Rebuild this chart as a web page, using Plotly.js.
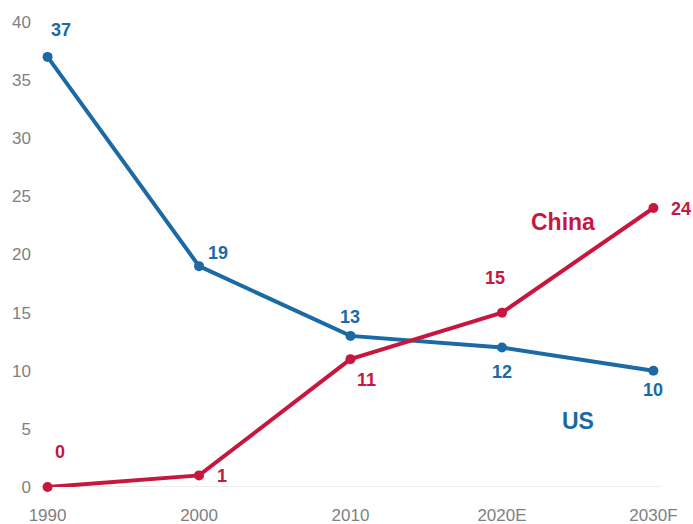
<!DOCTYPE html>
<html>
<head>
<meta charset="utf-8">
<script src="https://cdn.plot.ly/plotly-3.0.1.min.js"></script>
<style>html,body{margin:0;padding:0;background:#fff;}#chart{width:693px;height:524px;}</style>
</head>
<body>
<div id="chart"></div>
<script>
const categories = ["1990", "2000", "2010", "2020E", "2030F"];
const usValues = [37, 19, 13, 12, 10];
const chinaValues = [0, 1, 11, 15, 24];
const yTicks = [0, 5, 10, 15, 20, 25, 30, 35, 40];

const blue = "#1b6aa5";
const red = "#c8173f";
const xIdx = categories.map((c, i) => i);

const usShift = [[13, 27], [19, 13], [-1, 19], [0, -24], [0, -19]];
const chinaShift = [[12, 35], [23, -1], [16, -21], [-7, 35], [28, -1]];

const labelFont = (color) => ({family: "Liberation Sans, Arial, sans-serif", size: 18, color: color, weight: "bold"});

const annotations = [];
usValues.forEach((v, i) => annotations.push({
  x: i, y: v, xref: "x", yref: "y", text: String(v), showarrow: false,
  xshift: usShift[i][0], yshift: usShift[i][1], font: labelFont(blue)
}));
chinaValues.forEach((v, i) => annotations.push({
  x: i, y: v, xref: "x", yref: "y", text: String(v), showarrow: false,
  xshift: chinaShift[i][0], yshift: chinaShift[i][1], font: labelFont(red)
}));
annotations.push({x: 3.40, y: 22.8, xref: "x", yref: "y", text: "China", showarrow: false,
  font: {family: "Liberation Sans, Arial, sans-serif", size: 23, color: red, weight: "bold"}});
annotations.push({x: 3.50, y: 5.7, xref: "x", yref: "y", text: "US", showarrow: false,
  font: {family: "Liberation Sans, Arial, sans-serif", size: 23, color: blue, weight: "bold"}});

const traces = [
  {x: xIdx, y: usValues, type: "scatter", mode: "lines+markers", name: "US",
   line: {color: blue, width: 4}, marker: {color: blue, size: 10}, cliponaxis: false},
  {x: xIdx, y: chinaValues, type: "scatter", mode: "lines+markers", name: "China",
   line: {color: red, width: 4}, marker: {color: red, size: 10}, cliponaxis: false}
];

const layout = {
  width: 693, height: 524,
  margin: {l: 40, r: 32, t: 22, b: 37},
  paper_bgcolor: "#fff", plot_bgcolor: "#fff",
  showlegend: false,
  font: {family: "Liberation Sans, Arial, sans-serif", color: "#7f7f7f", size: 17},
  xaxis: {range: [-0.05, 4.05], tickvals: xIdx, ticktext: categories,
    showgrid: false, zeroline: false, showline: false, ticks: "", ticklabelstandoff: 16,
    tickfont: {size: 17, color: "#7f7f7f"}},
  yaxis: {range: [0, 40], tickvals: yTicks, showgrid: false, zeroline: false,
    showline: false, ticks: "", ticklabelstandoff: 8,
    tickfont: {size: 17, color: "#7f7f7f"}},
  shapes: [{type: "line", xref: "paper", yref: "y", x0: 0, x1: 1, y0: 0, y1: 0,
    line: {color: "#d9d9d9", width: 1}, layer: "below"}],
  annotations: annotations
};

Plotly.newPlot("chart", traces, layout, {displayModeBar: false, staticPlot: true});
</script>
</body>
</html>
